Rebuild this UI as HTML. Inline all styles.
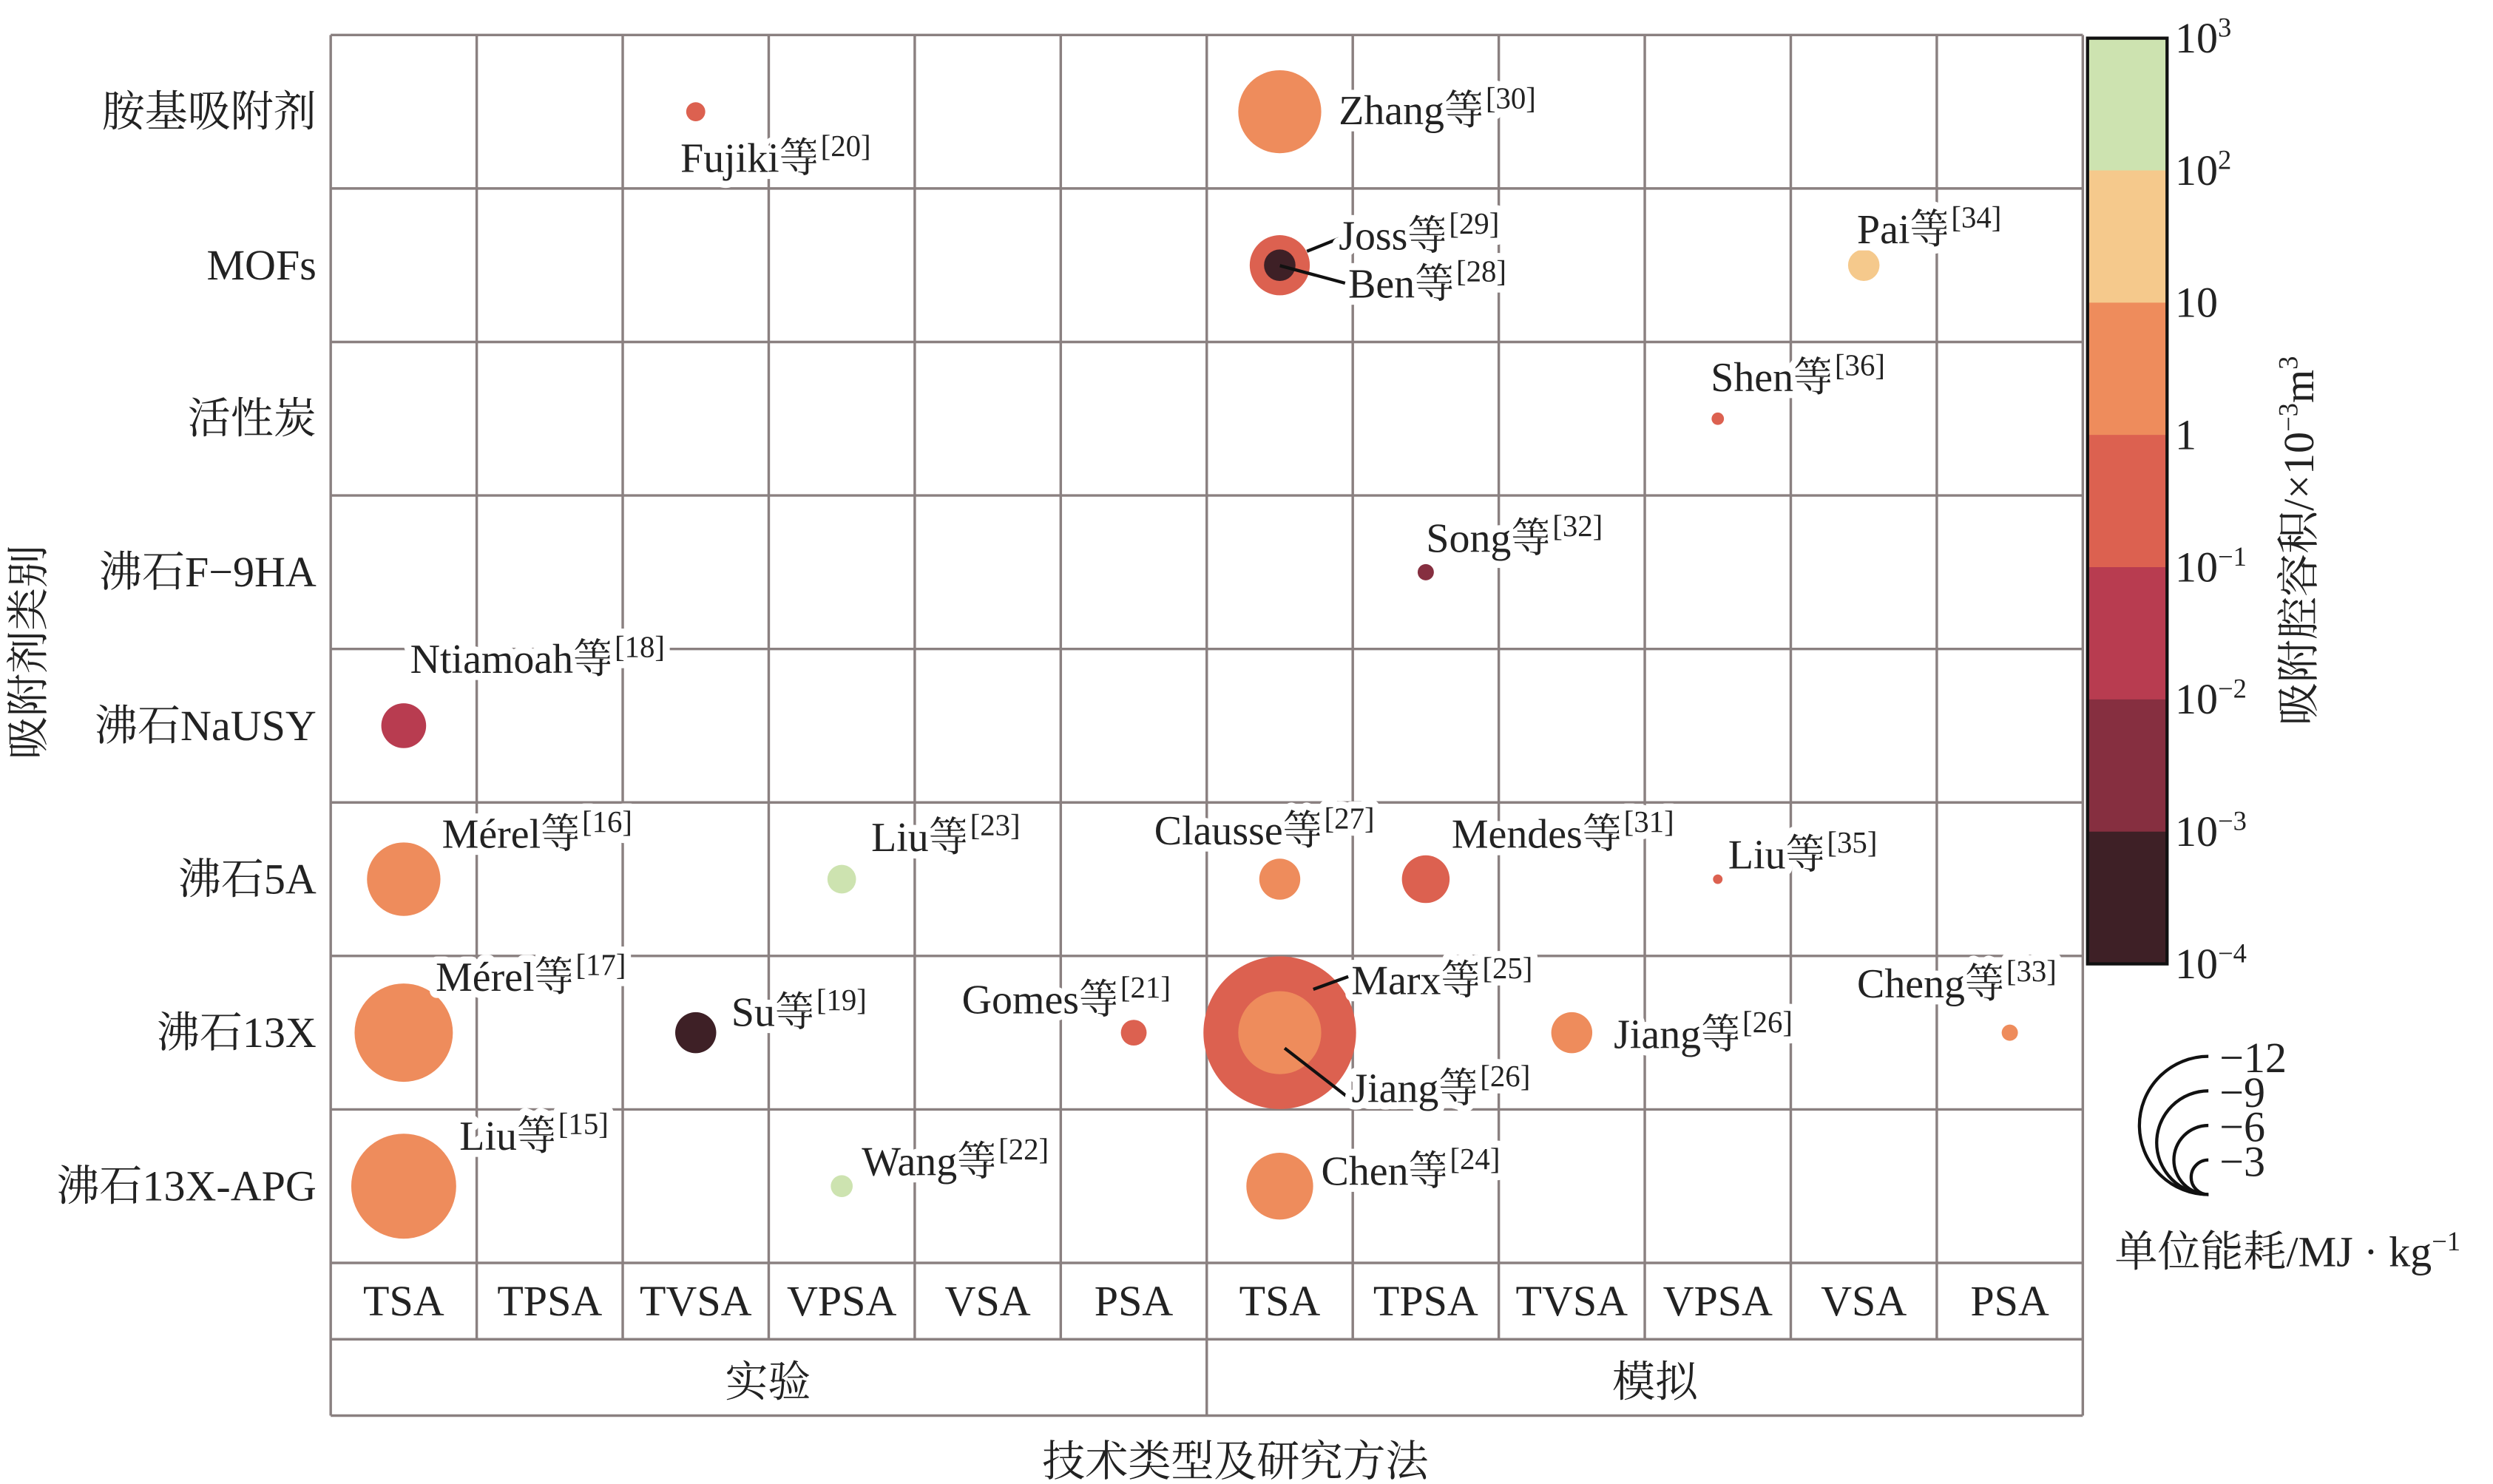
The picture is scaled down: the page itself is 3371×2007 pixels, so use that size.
<!DOCTYPE html>
<html><head><meta charset="utf-8"><style>
html,body{margin:0;padding:0;background:#fff}
svg{display:block}
text{font-family:"Liberation Serif","Noto Serif CJK SC","Noto Sans CJK SC",serif;fill:#222}
.lbl{font-size:26px;paint-order:stroke;stroke:#fff;stroke-width:9px;stroke-linejoin:round}
.lbl tspan{font-size:19px}
.ax{font-size:27px}
</style></head><body>
<svg id="chart" width="3371" height="2007" viewBox="0 0 1568 933" preserveAspectRatio="none" xmlns="http://www.w3.org/2000/svg">
<g id="grid"></g>
<g id="bubbles"></g>
<g id="leaders" stroke="#111" stroke-width="2">
<line x1="822" y1="158" x2="842" y2="150"/>
<line x1="805" y1="167" x2="846" y2="178"/>
<line x1="826" y1="622" x2="848" y2="614"/>
<line x1="808" y1="659" x2="848" y2="690"/>
</g>
<g id="labels">
<text class="lbl" x="428" y="108">Fujiki等<tspan dy="-10">[20]</tspan></text>
<text class="lbl" x="842" y="78">Zhang等<tspan dy="-10">[30]</tspan></text>
<text class="lbl" x="842" y="157">Joss等<tspan dy="-10">[29]</tspan></text>
<text class="lbl" x="848" y="187">Ben等<tspan dy="-10">[28]</tspan></text>
<text class="lbl" x="1168" y="153">Pai等<tspan dy="-10">[34]</tspan></text>
<text class="lbl" x="1076" y="246">Shen等<tspan dy="-10">[36]</tspan></text>
<text class="lbl" x="897" y="347">Song等<tspan dy="-10">[32]</tspan></text>
<text class="lbl" x="258" y="423">Ntiamoah等<tspan dy="-10">[18]</tspan></text>
<text class="lbl" x="278" y="533">Mérel等<tspan dy="-10">[16]</tspan></text>
<text class="lbl" x="548" y="535">Liu等<tspan dy="-10">[23]</tspan></text>
<text class="lbl" x="726" y="531">Clausse等<tspan dy="-10">[27]</tspan></text>
<text class="lbl" x="913" y="533">Mendes等<tspan dy="-10">[31]</tspan></text>
<text class="lbl" x="1087" y="546">Liu等<tspan dy="-10">[35]</tspan></text>
<text class="lbl" x="274" y="623">Mérel等<tspan dy="-10">[17]</tspan></text>
<text class="lbl" x="460" y="645">Su等<tspan dy="-10">[19]</tspan></text>
<text class="lbl" x="605" y="637">Gomes等<tspan dy="-10">[21]</tspan></text>
<text class="lbl" x="850" y="625">Marx等<tspan dy="-10">[25]</tspan></text>
<text class="lbl" x="850" y="693">Jiang等<tspan dy="-10">[26]</tspan></text>
<text class="lbl" x="1015" y="659">Jiang等<tspan dy="-10">[26]</tspan></text>
<text class="lbl" x="1168" y="627">Cheng等<tspan dy="-10">[33]</tspan></text>
<text class="lbl" x="289" y="723">Liu等<tspan dy="-10">[15]</tspan></text>
<text class="lbl" x="542" y="739">Wang等<tspan dy="-10">[22]</tspan></text>
<text class="lbl" x="831" y="745">Chen等<tspan dy="-10">[24]</tspan></text>
</g>
<g id="rowlabels"></g>
<g id="collabels"></g>
<text class="ax" x="483" y="878" text-anchor="middle">实验</text>
<text class="ax" x="1041" y="878" text-anchor="middle">模拟</text>
<text class="ax" x="777" y="928" text-anchor="middle">技术类型及研究方法</text>
<text class="ax" transform="translate(27,410) rotate(-90)" text-anchor="middle">吸附剂类别</text>
<g id="colorbar"></g>
<text class="ax" transform="translate(1455,340) rotate(-90)" text-anchor="middle">吸附腔容积/×10<tspan font-size="17" dy="-10">−3</tspan><tspan dy="10">m</tspan><tspan font-size="17" dy="-10">3</tspan></text>
<g id="sizelegend"></g>
<text class="ax" x="1330" y="796">单位能耗/MJ · kg<tspan font-size="17" dy="-10">−1</tspan></text>
</svg>
<script>
const rows=["胺基吸附剂","MOFs","活性炭","沸石F−9HA","沸石NaUSY","沸石5A","沸石13X","沸石13X-APG"];
const cols=["TSA","TPSA","TVSA","VPSA","VSA","PSA","TSA","TPSA","TVSA","VPSA","VSA","PSA"];
const names=["fujiki","zhang","joss","ben","pai","shen","song","ntiamoah","merel16","liu23","clausse","mendes","liu35","merel17","su","gomes","marx","jiang-inner","jiang","cheng","liu15","wang","chen"];
const ptRow=[0,0,1,1,1,2,3,4,5,5,5,5,5,6,6,6,6,6,6,6,7,7,7];
const ptCol=[2,6,6,6,10,9,7,0,0,3,6,7,9,0,2,5,6,6,8,11,0,3,6];
const energy=[2,8.7,6.3,3.3,3.3,1.3,1.7,4.7,7.7,3,4.3,5,1,10.3,4.3,2.7,16,8.7,4.3,1.7,11,2.3,7];
const volume=[0.5,5,0.5,0.0005,50,0.5,0.005,0.05,5,500,5,0.5,0.5,5,0.0005,0.5,0.5,5,5,5,5,500,5];
const cbTicks=["10<tspan font-size='17' dy='-10'>3</tspan>","10<tspan font-size='17' dy='-10'>2</tspan>","10","1","10<tspan font-size='17' dy='-10'>−1</tspan>","10<tspan font-size='17' dy='-10'>−2</tspan>","10<tspan font-size='17' dy='-10'>−3</tspan>","10<tspan font-size='17' dy='-10'>−4</tspan>"];
const sizeTicks=[-12,-9,-6,-3];

const NS="http://www.w3.org/2000/svg";
const L=208,R=1310,T=22,B=794;
const cw=(R-L)/12,rh=(B-T)/8;
const xs=c=>L+cw*(c+0.5), ys=r=>T+rh*(r+0.5), rs=e=>3*Math.abs(e);
const bandColors=["#3e2026","#862f40","#b83c50","#dc6150","#ee8c5c","#f5c98c","#cde3b0"];
const col=v=>bandColors[Math.max(0,Math.min(6,Math.floor(Math.log10(v))+4))];
function mk(t,a,p){const e=document.createElementNS(NS,t);for(const k in a)e.setAttribute(k,a[k]);p.appendChild(e);return e;}
const g=document.getElementById('grid');
const gs={stroke:"#8a8080","stroke-width":1.6};
for(let i=0;i<=8;i++){const l=mk('line',Object.assign({x1:L,x2:R,y1:T+rh*i,y2:T+rh*i},gs),g);

}
for(const y of [842,890]){const l=mk('line',Object.assign({x1:L,x2:R,y1:y,y2:y},gs),g);

}
for(let i=0;i<=12;i++){const yb=(i==0||i==6||i==12)?890:842;const l=mk('line',Object.assign({x1:L+cw*i,x2:L+cw*i,y1:T,y2:yb},gs),g);

}
const rl=document.getElementById('rowlabels');
rows.forEach((r,i)=>{const t=mk('text',{x:199,y:ys(i)+9,'text-anchor':'end','class':'ax'},rl);t.textContent=r;

});
const cl=document.getElementById('collabels');
cols.forEach((c,i)=>{const t=mk('text',{x:xs(i),y:827,'text-anchor':'middle','class':'ax'},cl);t.textContent=c;

});
const bg=document.getElementById('bubbles');
names.forEach((n,i)=>{const c=mk('circle',{cx:xs(ptCol[i]),cy:ys(ptRow[i]),r:rs(energy[i]),fill:col(volume[i])},bg);

});
const cb=document.getElementById('colorbar');
const cbT=24,cbB=606,bh=(cbB-cbT)/7;
for(let i=0;i<7;i++){const r=mk('rect',{x:1313,y:cbT+bh*i,width:50,height:bh+0.5,fill:bandColors[6-i]},cb);

}
const fr=mk('rect',{x:1313,y:cbT,width:50,height:cbB-cbT,fill:'none',stroke:'#111','stroke-width':2},cb);


cbTicks.forEach((s,i)=>{const t=mk('text',{x:1368,y:cbT+bh*i+9,'class':'ax'},cb);t.innerHTML=s;

});
const sl=document.getElementById('sizelegend');
const bx=1389,by=751;
sizeTicks.forEach(v=>{const r=Math.abs(v)*3.62;const p=mk('path',{d:`M ${bx} ${by-2*r} A ${r} ${r} 0 0 0 ${bx} ${by}`,fill:'none',stroke:'#111','stroke-width':2},sl);


const t=mk('text',{x:bx+7,y:by-2*r+10,'class':'ax'},sl);t.textContent='−'+Math.abs(v);

});
</script>
</body></html>
